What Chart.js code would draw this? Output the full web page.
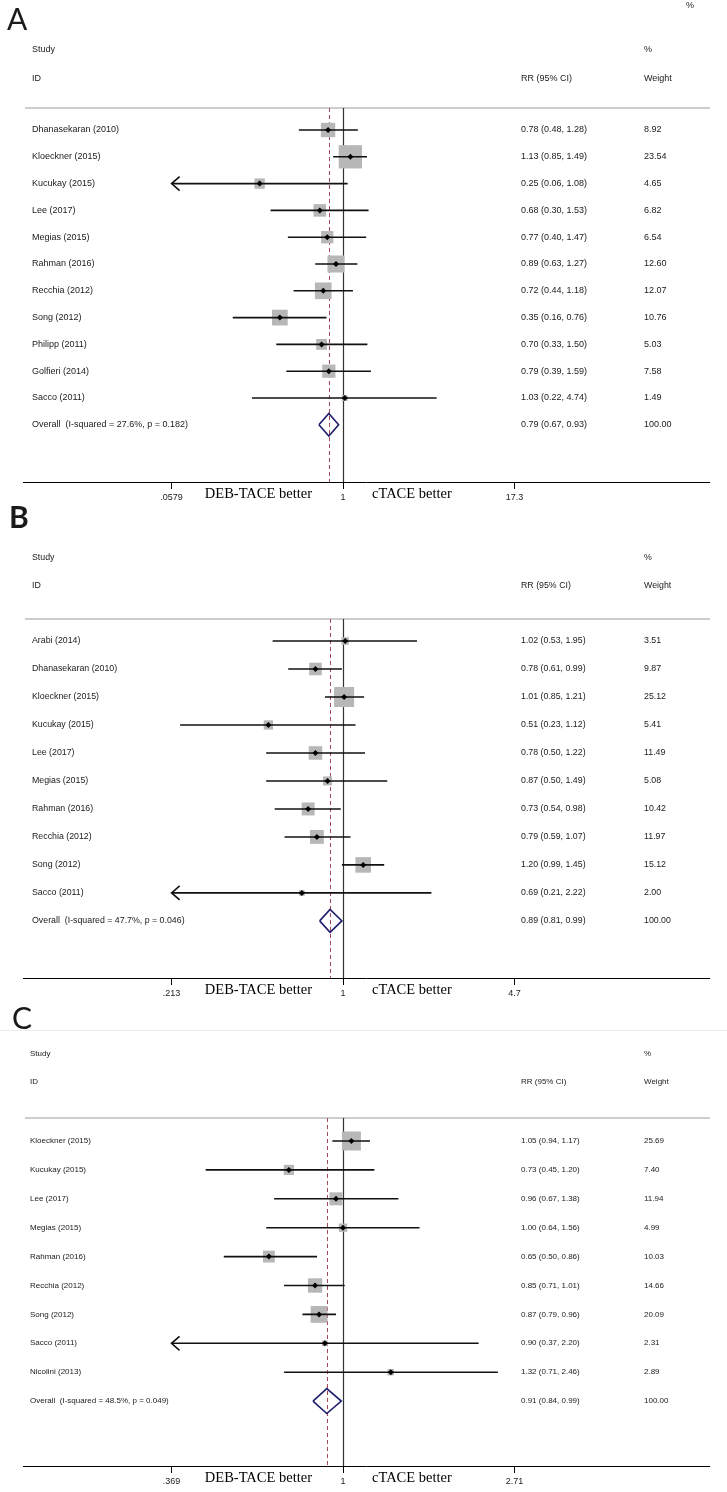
<!DOCTYPE html>
<html>
<head>
<meta charset="utf-8">
<script src="https://cdn.jsdelivr.net/npm/chart.js@4.4.0/dist/chart.umd.min.js"></script>
<style>
  body { margin: 0; background: #fff; width: 727px; height: 1492px; position: relative; overflow: hidden; }
  canvas { position: absolute; left: 0; }
</style>
</head>
<body>
<canvas id="chartA" width="727" height="515" style="top:0px"></canvas>
<canvas id="chartB" width="727" height="515" style="top:500px"></canvas>
<canvas id="chartC" width="727" height="492" style="top:1000px"></canvas>
<script>
// ---- Panel A data ----
var studiesA = ["Dhanasekaran (2010)", "Kloeckner (2015)", "Kucukay (2015)", "Lee (2017)", "Megias (2015)", "Rahman (2016)", "Recchia (2012)", "Song (2012)", "Philipp (2011)", "Golfieri (2014)", "Sacco (2011)"];
var rrA = [0.78, 1.13, 0.25, 0.68, 0.77, 0.89, 0.72, 0.35, 0.70, 0.79, 1.03];
var loA = [0.48, 0.85, 0.06, 0.30, 0.40, 0.63, 0.44, 0.16, 0.33, 0.39, 0.22];
var hiA = [1.28, 1.49, 1.08, 1.53, 1.47, 1.27, 1.18, 0.76, 1.50, 1.59, 4.74];
var weightA = [8.92, 23.54, 4.65, 6.82, 6.54, 12.60, 12.07, 10.76, 5.03, 7.58, 1.49];
var overallA = [0.79, 0.67, 0.93];
var overallLabelA = "Overall  (I-squared = 27.6%, p = 0.182)";
var ticksA = [0.0579, 1, 17.3];
var tickLabelsA = [".0579", "1", "17.3"];

// ---- Panel B data ----
var studiesB = ["Arabi (2014)", "Dhanasekaran (2010)", "Kloeckner (2015)", "Kucukay (2015)", "Lee (2017)", "Megias (2015)", "Rahman (2016)", "Recchia (2012)", "Song (2012)", "Sacco (2011)"];
var rrB = [1.02, 0.78, 1.01, 0.51, 0.78, 0.87, 0.73, 0.79, 1.20, 0.69];
var loB = [0.53, 0.61, 0.85, 0.23, 0.50, 0.50, 0.54, 0.59, 0.99, 0.21];
var hiB = [1.95, 0.99, 1.21, 1.12, 1.22, 1.49, 0.98, 1.07, 1.45, 2.22];
var weightB = [3.51, 9.87, 25.12, 5.41, 11.49, 5.08, 10.42, 11.97, 15.12, 2.00];
var overallB = [0.89, 0.81, 0.99];
var overallLabelB = "Overall  (I-squared = 47.7%, p = 0.046)";
var ticksB = [0.213, 1, 4.7];
var tickLabelsB = [".213", "1", "4.7"];

// ---- Panel C data ----
var studiesC = ["Kloeckner (2015)", "Kucukay (2015)", "Lee (2017)", "Megias (2015)", "Rahman (2016)", "Recchia (2012)", "Song (2012)", "Sacco (2011)", "Nicolini (2013)"];
var rrC = [1.05, 0.73, 0.96, 1.00, 0.65, 0.85, 0.87, 0.90, 1.32];
var loC = [0.94, 0.45, 0.67, 0.64, 0.50, 0.71, 0.79, 0.37, 0.71];
var hiC = [1.17, 1.20, 1.38, 1.56, 0.86, 1.01, 0.96, 2.20, 2.46];
var weightC = [25.69, 7.40, 11.94, 4.99, 10.03, 14.66, 20.09, 2.31, 2.89];
var overallC = [0.91, 0.84, 0.99];
var overallLabelC = "Overall  (I-squared = 48.5%, p = 0.049)";
var ticksC = [0.369, 1, 2.71];
var tickLabelsC = [".369", "1", "2.71"];

var SANS = '"Liberation Sans", Arial, sans-serif';
var SERIF = '"Liberation Serif", "Times New Roman", serif';

function fmt(v) { return v.toFixed(2); }

// draws one forest panel
function forest(canvasId, d, lay) {
  var n = d.studies.length;
  var pxPerLn = 171.5 / Math.log(d.ticks[2]);
  var xMin = Math.exp(-320 / pxPerLn);
  var xMax = Math.exp(366 / pxPerLn);
  var clipLo = +d.ticks[0].toFixed(2);

  var datasets = [];
  // point estimate markers
  datasets.push({
    data: d.rr.map(function(v, i) { return { x: v, y: i }; }),
    pointStyle: 'rectRot', pointRadius: 3, pointBackgroundColor: '#000',
    pointBorderWidth: 0, order: 0
  });
  // confidence intervals
  d.studies.forEach(function(s, i) {
    var lo = d.lo[i] <= clipLo ? d.ticks[0] : d.lo[i];
    datasets.push({
      data: [{ x: lo, y: i }, { x: d.hi[i], y: i }],
      showLine: true, borderColor: '#111', borderWidth: 1.6, pointRadius: 0, order: 1
    });
  });
  // overall diamond
  var o = d.overall;
  datasets.push({
    data: [{ x: o[1], y: n }, { x: o[0], y: n - lay.half }, { x: o[2], y: n }, { x: o[0], y: n + lay.half }, { x: o[1], y: n }],
    showLine: true, borderColor: '#1d1d6e', borderWidth: 1.6, pointRadius: 0, order: 1
  });
  // weight boxes
  datasets.push({
    data: d.rr.map(function(v, i) { return { x: v, y: i }; }),
    pointStyle: 'rect',
    pointRadius: d.weight.map(function(w) { return lay.box * Math.sqrt(w) / (2 * Math.SQRT1_2); }),
    pointBackgroundColor: '#b7b7b7', pointBorderWidth: 0, order: 2
  });

  var plugin = {
    id: 'forest' + canvasId,
    beforeDatasetsDraw: function(chart) {
      var ctx = chart.ctx, a = chart.chartArea, xs = chart.scales.x;
      ctx.save();
      // header rule
      ctx.strokeStyle = '#bdbdbd';
      ctx.lineWidth = 1.5;
      ctx.beginPath(); ctx.moveTo(a.left + 2, a.top); ctx.lineTo(a.right + 1, a.top); ctx.stroke();
      // no-effect line
      var x1 = Math.round(xs.getPixelForValue(1)) + 0.5;
      ctx.strokeStyle = '#333'; ctx.lineWidth = 1.2;
      ctx.beginPath(); ctx.moveTo(x1, a.top); ctx.lineTo(x1, a.bottom); ctx.stroke();
      // overall estimate line
      var xo = Math.round(xs.getPixelForValue(o[0])) + 0.5;
      ctx.strokeStyle = '#a8475a'; ctx.lineWidth = 1;
      ctx.setLineDash([4, 3]);
      ctx.beginPath(); ctx.moveTo(xo, a.top); ctx.lineTo(xo, a.bottom); ctx.stroke();
      ctx.restore();
    },
    afterDatasetsDraw: function(chart) {
      var ctx = chart.ctx, xs = chart.scales.x, ys = chart.scales.y;
      ctx.save();
      ctx.strokeStyle = '#111'; ctx.lineWidth = 1.6;
      d.lo.forEach(function(lo, i) {
        if (lo > clipLo) return;
        var x = xs.getPixelForValue(d.ticks[0]), y = ys.getPixelForValue(i);
        ctx.beginPath();
        ctx.moveTo(x + 8, y - 7); ctx.lineTo(x, y); ctx.lineTo(x + 8, y + 7);
        ctx.stroke();
      });
      ctx.restore();
    },
    afterDraw: function(chart) {
      var ctx = chart.ctx, a = chart.chartArea, xs = chart.scales.x, ys = chart.scales.y;
      ctx.save();
      ctx.fillStyle = '#1a1a1a';
      // panel letter
      ctx.font = (lay.letterBold ? 'bold ' : '') + '30px Lato, sans-serif';
      ctx.textBaseline = 'alphabetic';
      ctx.fillText(lay.letter, lay.letterX, lay.letterY);
      if (lay.topRule) {
        ctx.strokeStyle = '#ececec'; ctx.lineWidth = 1;
        ctx.beginPath(); ctx.moveTo(0, lay.topRule + 0.5); ctx.lineTo(727, lay.topRule + 0.5); ctx.stroke();
      }
      ctx.font = lay.font + 'px ' + SANS;
      ctx.textBaseline = 'middle';
      if (lay.stray) ctx.fillText('%', 686, 6);
      // header
      ctx.fillText('Study', lay.textX, a.top + lay.studyY);
      ctx.fillText('%', 644, a.top + lay.studyY);
      ctx.fillText('ID', lay.textX, a.top + lay.idY);
      ctx.fillText('RR (95% CI)', 521, a.top + lay.idY);
      ctx.fillText('Weight', 644, a.top + lay.idY);
      // rows
      d.studies.forEach(function(s, i) {
        var y = ys.getPixelForValue(i);
        ctx.fillText(s, lay.textX, y);
        ctx.fillText(fmt(d.rr[i]) + ' (' + fmt(d.lo[i]) + ', ' + fmt(d.hi[i]) + ')', 521, y);
        ctx.fillText(fmt(d.weight[i]), 644, y);
      });
      var yo = ys.getPixelForValue(n);
      ctx.fillText(d.overallLabel, lay.textX, yo);
      ctx.fillText(fmt(o[0]) + ' (' + fmt(o[1]) + ', ' + fmt(o[2]) + ')', 521, yo);
      ctx.fillText('100.00', 644, yo);
      // favours labels
      var x1 = xs.getPixelForValue(1);
      ctx.font = '14.5px ' + SERIF;
      ctx.fillStyle = '#000';
      ctx.textBaseline = 'alphabetic';
      ctx.textAlign = 'right';
      ctx.fillText('DEB-TACE better', x1 - 31, a.bottom + 16);
      ctx.textAlign = 'left';
      ctx.fillText('cTACE better', x1 + 29, a.bottom + 16);
      ctx.restore();
    }
  };

  return new Chart(document.getElementById(canvasId), {
    type: 'scatter',
    data: { datasets: datasets },
    options: {
      responsive: false,
      animation: false,
      events: [],
      layout: { padding: { left: 23, right: 18, top: lay.padTop, bottom: lay.padBottom } },
      plugins: { legend: { display: false }, tooltip: { enabled: false } },
      scales: {
        x: {
          type: 'logarithmic',
          min: xMin, max: xMax,
          afterBuildTicks: function(scale) {
            scale.ticks = d.ticks.map(function(v) { return { value: v }; });
          },
          afterFit: function(scale) { scale.height = 24; },
          ticks: {
            autoSkip: false, maxRotation: 0, padding: 3, color: '#222',
            font: { family: SANS, size: 9 },
            callback: function(v, i) { return d.tickLabels[i]; }
          },
          grid: { drawOnChartArea: false, drawTicks: true, tickLength: 7, color: '#000', lineWidth: 1 },
          border: { display: true, color: '#000', width: 1 }
        },
        y: { type: 'linear', reverse: true, min: lay.yMin, max: lay.yMax, display: false }
      }
    },
    plugins: [plugin]
  });
}

forest('chartA',
  { studies: studiesA, rr: rrA, lo: loA, hi: hiA, weight: weightA, overall: overallA, overallLabel: overallLabelA, ticks: ticksA, tickLabels: tickLabelsA },
  { letter: 'A', letterX: 7, letterY: 30, letterBold: false, stray: true, textX: 32, font: 9, studyY: -58, idY: -29,
    box: 4.8, half: 0.42, yMin: -0.821, yMax: 13.134, padTop: 108, padBottom: 9 });

forest('chartB',
  { studies: studiesB, rr: rrB, lo: loB, hi: hiB, weight: weightB, overall: overallB, overallLabel: overallLabelB, ticks: ticksB, tickLabels: tickLabelsB },
  { letter: 'B', letterX: 9, letterY: 28, letterBold: true, textX: 32, font: 8.8, studyY: -61, idY: -33,
    box: 4.0, half: 0.41, yMin: -0.786, yMax: 12.04, padTop: 119, padBottom: 13 });

forest('chartC',
  { studies: studiesC, rr: rrC, lo: loC, hi: hiC, weight: weightC, overall: overallC, overallLabel: overallLabelC, ticks: ticksC, tickLabels: tickLabelsC },
  { letter: 'C', letterX: 12, letterY: 29, letterBold: false, topRule: 30, textX: 30, font: 8, studyY: -64, idY: -36,
    box: 3.75, half: 0.43, yMin: -0.796, yMax: 11.246, padTop: 118, padBottom: 2 });
</script>
</body>
</html>
